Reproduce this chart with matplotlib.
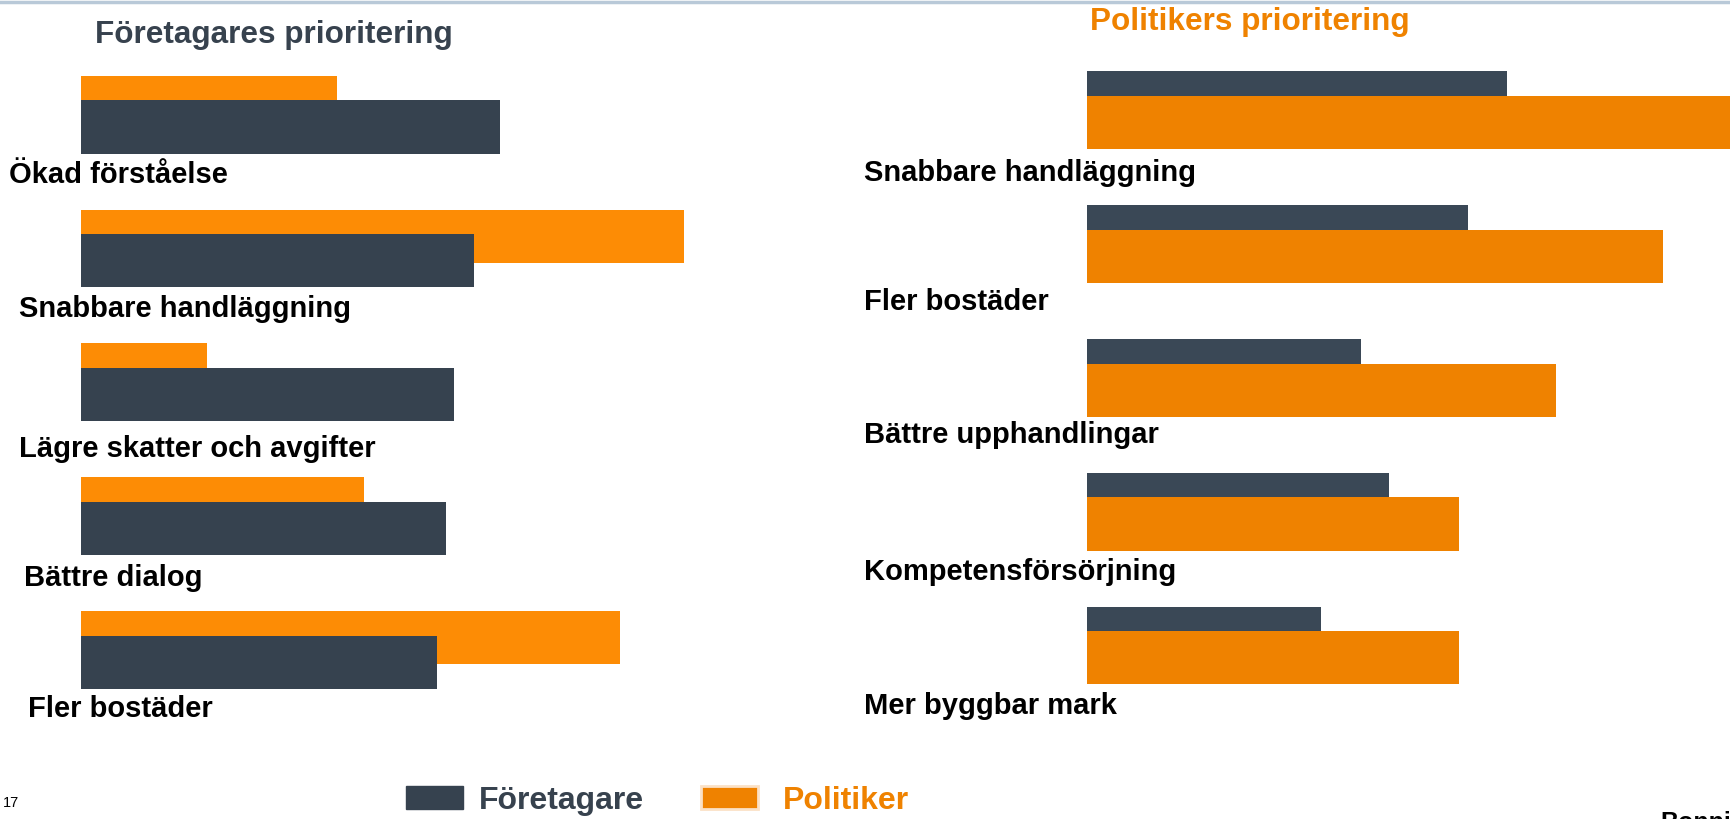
import numpy as np
import matplotlib
matplotlib.use('Agg')
import matplotlib.pyplot as plt
import matplotlib.transforms as mtrans
from matplotlib.patches import Patch

plt.rcParams['font.family'] = ['Liberation Sans', 'DejaVu Sans']

# --- data (bar lengths, arbitrary units)
left_cats = ['Ökad förståelse', 'Snabbare handläggning', 'Lägre skatter och avgifter',
             'Bättre dialog', 'Fler bostäder']
left_foretagare = [50.0, 46.8, 44.5, 43.5, 42.4]
left_politiker = [30.5, 71.8, 15.1, 33.8, 64.2]

right_cats = ['Snabbare handläggning', 'Fler bostäder', 'Bättre upphandlingar',
              'Kompetensförsörjning', 'Mer byggbar mark']
right_foretagare = [50.0, 45.4, 32.6, 36.0, 27.9]
right_politiker = [78.0, 68.6, 55.8, 44.3, 44.3]

series = ['Företagare', 'Politiker']

# --- colours
DARK_L = '#36424f'
ORANGE_L = '#fd8c05'
DARK_R = '#3a4856'
ORANGE_R = '#ef8200'
TXT_DARK = '#37424e'

W, H = 1730, 819
fig = plt.figure(figsize=(W/100, H/100), dpi=100)

# thin line at the very top
fig.add_artist(plt.Line2D([0, 1], [1 - 1.5/H, 1 - 1.5/H], color='#b9c9d8', lw=2.5,
                          transform=fig.transFigure))

bh = 0.397   # bar height
off = 0.092  # half offset between the two bars of a group
ypos = np.arange(5)
LABEL_FS = 21

# left panel
axL = fig.add_axes([80.5/W, 1 - 730.2/H, 672/W, 695.8/H])
axL.barh(ypos - off, left_politiker, height=bh, color=ORANGE_L, zorder=1)
axL.barh(ypos + off, left_foretagare, height=bh, color=DARK_L, zorder=2)
axL.set_xlim(0, 80)
axL.set_ylim(4.6, -0.6)
axL.axis('off')

tL = mtrans.blended_transform_factory(fig.transFigure, axL.transData)
lab_x_left = [8.8, 18.8, 18.8, 24.3, 27.6]
lab_dy_left = [0.45, 0.45, 0.50, 0.46, 0.44]
for i, c in enumerate(left_cats):
    axL.text(lab_x_left[i]/W, i + lab_dy_left[i], c, transform=tL, ha='left', va='center',
             fontsize=LABEL_FS, fontweight='bold', color='black', clip_on=False)

# right panel
axR = fig.add_axes([1086.8/W, 1 - 725.8/H, 1 - 1086.8/W, 695.8/H])
axR.barh(ypos - off, right_foretagare, height=bh, color=DARK_R, zorder=1)
axR.barh(ypos + off, right_politiker, height=bh, color=ORANGE_R, zorder=2)
axR.set_xlim(0, (W - 1086.8)/8.4)
axR.set_ylim(4.6, -0.6)
axR.axis('off')

tR = mtrans.blended_transform_factory(fig.transFigure, axR.transData)
lab_dy_right = [0.47, 0.43, 0.43, 0.45, 0.45]
for i, c in enumerate(right_cats):
    axR.text(864/W, i + lab_dy_right[i], c, transform=tR, ha='left', va='center',
             fontsize=LABEL_FS, fontweight='bold', color='black', clip_on=False)

# titles
fig.text(273.6/W, 1 - 35.3/H, 'Företagares prioritering', ha='center', va='center',
         fontsize=22.7, fontweight='bold', color=TXT_DARK)
fig.text(1250/W, 1 - 22/H, 'Politikers prioritering', ha='center', va='center',
         fontsize=22.7, fontweight='bold', color=ORANGE_R)

# legend, one entry at a time so each sits where it is in the picture
handles = [Patch(facecolor=DARK_L, edgecolor=DARK_L),
           Patch(facecolor=ORANGE_R, edgecolor='#fbe1c6', linewidth=2)]
leg_x = [406, 700.6]
leg_pad = [0.5, 0.8]
for h, name, x0, pad, col in zip(handles, series, leg_x, leg_pad, [TXT_DARK, ORANGE_R]):
    leg = fig.legend([h], [name], frameon=False, loc='center left',
                     bbox_to_anchor=(x0/W, 1 - 801/H), borderpad=0, borderaxespad=0,
                     handlelength=1.79, handleheight=0.72, handletextpad=pad,
                     prop={'weight': 'bold', 'size': 23})
    leg.get_texts()[0].set_color(col)

# page number and cut-off footer
fig.text(3.3/W, 1 - 803/H, '17', ha='left', va='center', fontsize=10.5, color='black')
fig.text(1660/W, 1 - 811/H, 'Bonnier', ha='left', va='top', fontsize=18,
         fontweight='bold', color='black')

plt.savefig('out.png', dpi=100, facecolor='w')
